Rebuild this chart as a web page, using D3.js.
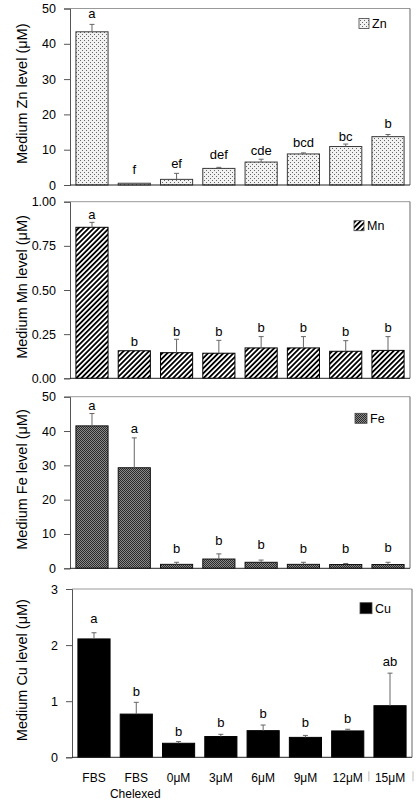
<!DOCTYPE html>
<html><head><meta charset="utf-8">
<script src="https://cdn.jsdelivr.net/npm/d3@7"></script>
<style>body{margin:0;background:#fff;} svg{display:block;font-family:"Liberation Sans",Arial,sans-serif;}</style>
</head><body><svg id="c" width="416" height="800"></svg>
<script>
// ---------- data ----------
const categories = ["FBS", "FBS\nChelexed", "0μM", "3μM", "6μM", "9μM", "12μM", "15μM"];

const znMean = [43.4, 0.5, 1.6, 4.7, 6.5, 8.8, 10.9, 13.7];
const znErr  = [2.1, 0, 1.7, 0.3, 0.8, 0.3, 0.7, 0.6];
const znLetters = ["a", "f", "ef", "def", "cde", "bcd", "bc", "b"];
const znLetterAt = [47.2, 3.0, 4.7, 7.5, 8.6, 10.7, 12.6, 16.2];
const znTicks = [0, 10, 20, 30, 40, 50];

const mnMean = [0.855, 0.156, 0.145, 0.142, 0.172, 0.172, 0.153, 0.158];
const mnErr  = [0.028, 0, 0.076, 0.073, 0.064, 0.064, 0.06, 0.078];
const mnLetters = ["a", "b", "b", "b", "b", "b", "b", "b"];
const mnLetterAt = [0.902, 0.185, 0.241, 0.241, 0.26, 0.26, 0.241, 0.26];
const mnTicks = [0, 0.25, 0.5, 0.75, 1.0];

const feMean = [41.5, 29.3, 1.15, 2.7, 1.75, 1.15, 1.1, 1.1];
const feErr  = [3.6, 8.7, 0.6, 1.5, 0.65, 0.6, 0.3, 0.65];
const feLetters = ["a", "a", "b", "b", "b", "b", "b", "b"];
const feLetterAt = [46.2, 39.3, 4.4, 6.8, 5.6, 4.4, 4.4, 4.7];
const feTicks = [0, 10, 20, 30, 40, 50];

const cuMean = [2.11, 0.77, 0.25, 0.37, 0.475, 0.355, 0.47, 0.92];
const cuErr  = [0.11, 0.21, 0.03, 0.04, 0.1, 0.035, 0.03, 0.58];
const cuLetters = ["a", "b", "b", "b", "b", "b", "b", "ab"];
const cuLetterAt = [2.39, 1.09, 0.385, 0.535, 0.695, 0.535, 0.606, 1.62];
const cuTicks = [0, 1, 2, 3];

// ---------- drawing ----------
const svg = d3.select("#c");
const defs = svg.append("defs");

// Zn stipple
const pZn = defs.append("pattern").attr("id", "pZn").attr("patternUnits", "userSpaceOnUse")
  .attr("width", 4).attr("height", 4);
pZn.append("rect").attr("width", 4).attr("height", 4).attr("fill", "#f2f2f2");
pZn.append("rect").attr("x", 0).attr("y", 0).attr("width", 1).attr("height", 1).attr("fill", "#666");
pZn.append("rect").attr("x", 2).attr("y", 2).attr("width", 1).attr("height", 1).attr("fill", "#666");

// Mn hatch
const pMn = defs.append("pattern").attr("id", "pMn").attr("patternUnits", "userSpaceOnUse")
  .attr("width", 3.6).attr("height", 3.6).attr("patternTransform", "rotate(45)");
pMn.append("rect").attr("width", 3.6).attr("height", 3.6).attr("fill", "#fff");
pMn.append("rect").attr("width", 1.8).attr("height", 3.6).attr("fill", "#000");

// Fe dense check
const pFe = defs.append("pattern").attr("id", "pFe").attr("patternUnits", "userSpaceOnUse")
  .attr("width", 2).attr("height", 2);
pFe.append("rect").attr("width", 2).attr("height", 2).attr("fill", "#2a2a2a");
pFe.append("rect").attr("x", 1).attr("y", 0).attr("width", 1).attr("height", 1).attr("fill", "#8a8a8a");
pFe.append("rect").attr("x", 0).attr("y", 1).attr("width", 1).attr("height", 1).attr("fill", "#8a8a8a");

const panels = [
  {name: "Zn", mean: znMean, err: znErr, letters: znLetters, at: znLetterAt, ticks: znTicks, max: 50, fmt: d3.format("d"),
   fill: "url(#pZn)", stroke: "#3a3a3a", x0: 70, x1: 410, yTop: 8.5, yBot: 185, leg: {dx: -51, dy: 10, w: 10, h: 10}},
  {name: "Mn", mean: mnMean, err: mnErr, letters: mnLetters, at: mnLetterAt, ticks: mnTicks, max: 1, fmt: d3.format(".2f"),
   fill: "url(#pMn)", stroke: "#000", x0: 70, x1: 410, yTop: 201.7, yBot: 378.3, leg: {dx: -56, dy: 19, w: 10, h: 10}},
  {name: "Fe", mean: feMean, err: feErr, letters: feLetters, at: feLetterAt, ticks: feTicks, max: 50, fmt: d3.format("d"),
   fill: "url(#pFe)", stroke: "#111", x0: 70, x1: 410, yTop: 396.7, yBot: 568.3, leg: {dx: -55, dy: 16.6, w: 12, h: 10}},
  {name: "Cu", mean: cuMean, err: cuErr, letters: cuLetters, at: cuLetterAt, ticks: cuTicks, max: 3, fmt: d3.format("d"),
   fill: "#000", stroke: "#000", x0: 72, x1: 412, yTop: 589, yBot: 757.3, leg: {dx: -52, dy: 13.7, w: 12, h: 11}}
];

let lastX = null, lastP = null;
panels.forEach(p => {
  const x = d3.scaleBand().domain(d3.range(categories.length)).range([p.x0, p.x1])
    .paddingInner(0.24).paddingOuter(0.14);
  const y = d3.scaleLinear().domain([0, p.max]).range([p.yBot, p.yTop]);
  const g = svg.append("g");

  // frame (top & right)
  g.append("line").attr("x1", p.x0).attr("x2", p.x1).attr("y1", p.yTop).attr("y2", p.yTop)
    .attr("stroke", "#999").attr("stroke-width", 1);
  g.append("line").attr("x1", p.x1).attr("x2", p.x1).attr("y1", p.yTop).attr("y2", p.yBot)
    .attr("stroke", "#666").attr("stroke-width", 1);

  // y axis
  const ax = g.append("g").attr("transform", `translate(${p.x0},0)`)
    .call(d3.axisLeft(y).tickValues(p.ticks).tickFormat(p.fmt).tickSize(6).tickPadding(8));
  ax.select(".domain").attr("stroke", "#555");
  ax.selectAll(".tick line").attr("stroke", "#555");
  ax.selectAll("text").attr("font-size", 12.5).attr("fill", "#000")
    .attr("font-family", "'Liberation Sans', Arial, sans-serif");

  // bars
  g.selectAll("rect.bar").data(p.mean).join("rect").attr("class", "bar")
    .attr("x", (d, i) => x(i)).attr("width", x.bandwidth())
    .attr("y", d => y(d)).attr("height", d => y(0) - y(d))
    .attr("fill", p.fill).attr("stroke", p.stroke).attr("stroke-width", 1);

  // error bars (upper)
  const eb = g.selectAll("g.eb").data(p.mean.map((m, i) => ({m, e: p.err[i], i})).filter(d => d.e > 0))
    .join("g").attr("class", "eb").attr("stroke", "#666").attr("stroke-width", 1);
  eb.append("line").attr("x1", d => x(d.i) + x.bandwidth() / 2).attr("x2", d => x(d.i) + x.bandwidth() / 2)
    .attr("y1", d => y(d.m)).attr("y2", d => y(d.m + d.e));
  eb.append("line").attr("x1", d => x(d.i) + x.bandwidth() / 2 - 2.5).attr("x2", d => x(d.i) + x.bandwidth() / 2 + 2.5)
    .attr("y1", d => y(d.m + d.e)).attr("y2", d => y(d.m + d.e));

  // significance letters
  g.selectAll("text.let").data(p.letters).join("text").attr("class", "let")
    .attr("x", (d, i) => x(i) + x.bandwidth() / 2).attr("y", (d, i) => y(p.at[i]))
    .attr("text-anchor", "middle").attr("font-size", 13).text(d => d);

  // bottom axis line
  g.append("line").attr("x1", p.x0).attr("x2", p.x1).attr("y1", p.yBot).attr("y2", p.yBot)
    .attr("stroke", "#222").attr("stroke-width", 1);

  // y title
  g.append("text").attr("transform", `translate(27,${(p.yTop + p.yBot) / 2 - 3}) rotate(-90)`)
    .attr("text-anchor", "middle").attr("font-size", 14.5).text(`Medium ${p.name} level (μM)`);

  // legend
  const lx = p.x1 + p.leg.dx, ly = p.yTop + p.leg.dy;
  g.append("rect").attr("x", lx).attr("y", ly).attr("width", p.leg.w).attr("height", p.leg.h)
    .attr("fill", p.fill).attr("stroke", "#444").attr("stroke-width", 0.8);
  g.append("text").attr("x", lx + p.leg.w + 3).attr("y", ly + p.leg.h - 0.5).attr("font-size", 12.5).text(p.name);

  lastX = x; lastP = p;
});

// category labels under bottom panel
const xl = svg.append("g");
categories.forEach((c, i) => {
  const lines = c.split("\n");
  lines.forEach((t, j) => {
    xl.append("text").attr("x", lastX(i) + lastX.bandwidth() / 2 - (j === 1 ? 1 : 0))
      .attr("y", lastP.yBot + 25 + j * 16).attr("text-anchor", "middle").attr("font-size", 12).text(t);
  });
});
// faint boundary marks seen near the last labels
const gap = lastX.step() * lastX.paddingInner();
[lastX(7) - gap / 2, lastP.x1 + 1].forEach(xx => {
  xl.append("line").attr("x1", xx).attr("x2", xx).attr("y1", lastP.yBot + 14).attr("y2", lastP.yBot + 24)
    .attr("stroke", "#bbb").attr("stroke-width", 1);
});
</script>
</body></html>
